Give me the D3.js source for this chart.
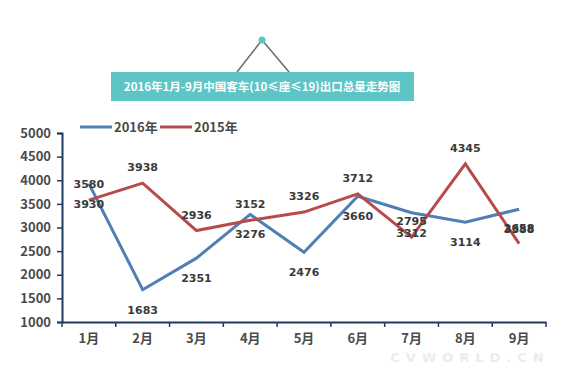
<!DOCTYPE html>
<html>
<head>
<meta charset="utf-8">
<script src="https://cdn.jsdelivr.net/npm/d3@7"></script>
<style>
  body { margin: 0; background: #fff; }
  svg { display: block; font-family: "DejaVu Sans", "Noto Sans CJK SC", sans-serif; }
</style>
</head>
<body>
<script>
const months = ['1月', '2月', '3月', '4月', '5月', '6月', '7月', '8月', '9月']
const sales2016 = [3930, 1683, 2351, 3276, 2476, 3660, 3312, 3114, 3388]
const sales2015 = [3580, 3938, 2936, 3152, 3326, 3712, 2795, 4345, 2658]
const yTicks = [1000, 1500, 2000, 2500, 3000, 3500, 4000, 4500, 5000]

const width = 562
const height = 374
const blue = '#4f7fb5'
const red = '#b94a4c'
const teal = '#5ec5c6'

const svg = d3.select('body')
	.append('svg')
	.attr('width', width)
	.attr('height', height)

// title box with the little hanger on top
svg.append('line').attr('x1', 262).attr('y1', 40).attr('x2', 237).attr('y2', 72)
	.attr('stroke', '#6b6b6b').attr('stroke-width', 1.5)
svg.append('line').attr('x1', 262).attr('y1', 40).attr('x2', 289).attr('y2', 72)
	.attr('stroke', '#6b6b6b').attr('stroke-width', 1.5)
svg.append('circle').attr('cx', 262).attr('cy', 40).attr('r', 3.5).attr('fill', teal)

svg.append('rect')
	.attr('x', 111).attr('y', 72)
	.attr('width', 303).attr('height', 29)
	.attr('fill', teal)
svg.append('text')
	.attr('x', 262).attr('y', 91)
	.attr('text-anchor', 'middle')
	.attr('fill', '#fff')
	.attr('font-size', 11.5)
	.attr('font-weight', 'bold')
	.attr('font-family', '"Noto Sans CJK SC", sans-serif')
	.text('2016年1月-9月中国客车(10≤座≤19)出口总量走势图')

const x = d3.scaleBand()
	.domain(months)
	.range([62, 546])

const y = d3.scaleLinear()
	.domain([1000, 5000])
	.range([322, 133])

// axes
const yAxis = svg.append('g')
	.attr('transform', 'translate(62,0)')
	.call(d3.axisLeft(y).tickValues(yTicks).tickSize(5).tickPadding(6).tickFormat(d3.format('d')))
const xAxis = svg.append('g')
	.attr('transform', 'translate(0,322)')
	.call(d3.axisBottom(x).tickSize(0).tickPadding(12))

yAxis.select('.domain').attr('stroke', '#1f3a5f').attr('stroke-width', 2)
xAxis.select('.domain').attr('stroke', '#1f3a5f').attr('stroke-width', 2)
yAxis.selectAll('line').attr('stroke', '#1f3a5f').attr('stroke-width', 1.5)
svg.selectAll('.tick text')
	.attr('fill', '#4a4a4a')
	.attr('font-size', 13)
	.attr('font-weight', 'bold')
	.attr('font-family', '"Noto Sans CJK SC", "DejaVu Sans", sans-serif')

// category boundary ticks on the x axis
xAxis.selectAll('.bound')
	.data(months.map(m => x(m)).concat([x.range()[1]]))
	.enter()
	.append('line')
	.attr('x1', d => d).attr('x2', d => d)
	.attr('y1', 0).attr('y2', 5)
	.attr('stroke', '#1f3a5f')
	.attr('stroke-width', 1.5)

const line = d3.line()
	.x((d, i) => x(months[i]) + x.bandwidth() / 2)
	.y(d => y(d))

svg.append('path').datum(sales2016)
	.attr('d', line).attr('fill', 'none')
	.attr('stroke', blue).attr('stroke-width', 3)
svg.append('path').datum(sales2015)
	.attr('d', line).attr('fill', 'none')
	.attr('stroke', red).attr('stroke-width', 3)

// data labels: 2015 above, 2016 below
const labelStyle = sel => sel
	.attr('text-anchor', 'middle')
	.attr('fill', '#3a3a3a')
	.attr('font-size', 11)
	.attr('font-weight', 'bold')
	.text(d => d)

svg.selectAll('.lab16')
	.data(sales2016)
	.enter()
	.append('text')
	.attr('x', (d, i) => x(months[i]) + x.bandwidth() / 2)
	.attr('y', d => y(d) + 24)
	.call(labelStyle)

svg.selectAll('.lab15')
	.data(sales2015)
	.enter()
	.append('text')
	.attr('x', (d, i) => x(months[i]) + x.bandwidth() / 2)
	.attr('y', d => y(d) - 12)
	.call(labelStyle)

// legend
const legend = [['2016年', blue, 80], ['2015年', red, 160]]
legend.forEach(([name, color, lx]) => {
	svg.append('line')
		.attr('x1', lx).attr('x2', lx + 32)
		.attr('y1', 127).attr('y2', 127)
		.attr('stroke', color).attr('stroke-width', 3)
	svg.append('text')
		.attr('x', lx + 34).attr('y', 132)
		.attr('fill', '#4a4a4a')
		.attr('font-size', 13)
		.attr('font-weight', 'bold')
		.attr('font-family', '"Noto Sans CJK SC", sans-serif')
		.text(name)
})

// faint watermark
svg.append('text')
	.attr('x', 470).attr('y', 362)
	.attr('text-anchor', 'middle')
	.attr('fill', '#ececec')
	.attr('font-size', 13)
	.attr('font-weight', 'bold')
	.attr('letter-spacing', 6)
	.text('CVWORLD.CN')
</script>
</body>
</html>
